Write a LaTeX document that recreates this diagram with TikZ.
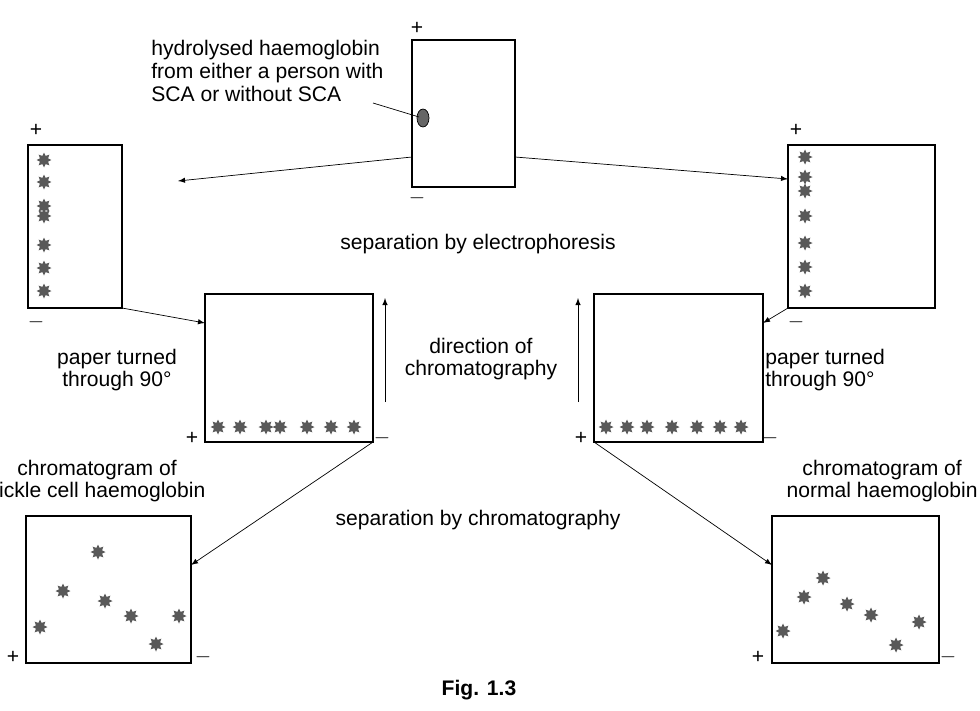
\documentclass[tikz,border=0pt]{standalone}
\usepackage{fontspec}
\setmainfont{Liberation Sans}
\usetikzlibrary{shapes.geometric}
\tikzset{
  spot/.style={star, star points=8, star point ratio=1.7, fill=black!65, inner sep=0pt, minimum size=0.3cm},
  paper/.style={draw, line width=0.9pt},
  lbl/.style={font=\fontsize{12}{13}\selectfont, align=center, inner sep=0pt},
  arr/.style={-latex, thin}
}
\begin{document}
\begin{tikzpicture}[x=0.02cm, y=-0.02cm]
\useasboundingbox (0,0) rectangle (980,710);

% papers
\draw[paper] (412,40) rectangle (515,187);
\draw[paper] (28,145) rectangle (122,308);
\draw[paper] (788,145) rectangle (935,308);
\draw[paper] (205,294) rectangle (373,442);
\draw[paper] (594,294) rectangle (763,442);
\draw[paper] (26,516) rectangle (191,663);
\draw[paper] (772,516) rectangle (939,663);

% signs
\foreach \x/\y in {417/28, 36/130, 796/130, 192/438, 581/438, 13/657, 758/657}
  \node[lbl] at (\x,\y) {+};
\foreach \x/\y in {417/198, 36/322, 796/322, 382/438, 770/438, 203/657, 948/657}
  \node[lbl] at (\x,\y) {$-$};

% spots
\foreach \y in {160,182,206,216,245,268,291} \node[spot] at (44,\y) {};
\foreach \y in {157,177,191,216,243,267,291} \node[spot] at (805,\y) {};
\foreach \x in {218,240,266,280,307,331,354} \node[spot] at (\x,427) {};
\foreach \x in {606,627,647,672,697,720,741} \node[spot] at (\x,427) {};
\foreach \x/\y in {40/627, 63/591, 98/552, 105/601, 131/616, 156/644, 179/616}
  \node[spot] at (\x,\y) {};
\foreach \x/\y in {783/631, 804/597, 823/578, 847/604, 871/615, 896/645, 919/622}
  \node[spot] at (\x,\y) {};

% sample
\draw[fill=black!60] (423,118) ellipse (0.12cm and 0.18cm);
\node[lbl, align=left, anchor=north west] (sample) at (151,40)
  {hydrolysed haemoglobin\\from either a person with\\SCA or without SCA};
\draw (373,103) -- (419,117);

% arrows
\draw[arr] (412,157) -- (178,181);
\draw[arr] (515,157) -- (788,179);
\draw[arr] (122,308) -- (205,323);
\draw[arr] (788,308) -- (763,323);
\draw[arr] (373,442) -- (191,565);
\draw[arr] (594,442) -- (772,565);
\draw[arr] (385,402) -- (385,298);
\draw[arr] (578,402) -- (578,298);

% labels
\node[lbl] at (478,244) {separation by electrophoresis};
\node[lbl] at (117,370) {paper turned\\through 90°};
\node[lbl, align=left, anchor=west] at (765,370) {paper turned\\through 90°};
\node[lbl] at (481,359) {direction of\\chromatography};
\node[lbl] at (97,481) {chromatogram of\\sickle cell haemoglobin};
\node[lbl, anchor=east] at (978,481) {chromatogram of\\normal haemoglobin};
\node[lbl] at (478,520) {separation by chromatography};
\node[lbl, font=\bfseries\fontsize{12}{13}\selectfont] at (479,690) {Fig. 1.3};
\end{tikzpicture}
\end{document}
